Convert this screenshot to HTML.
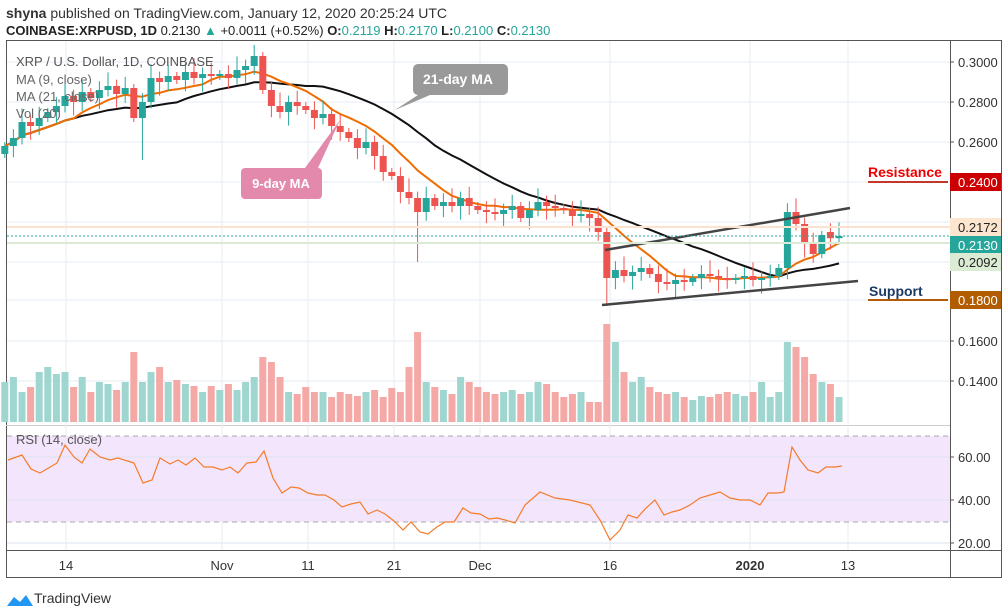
<!DOCTYPE html><html><head><meta charset="utf-8"><style>
body{margin:0;background:#fff;font-family:"Liberation Sans",sans-serif;}
svg{display:block}
</style></head><body>
<svg id="s" width="1008" height="615" xmlns="http://www.w3.org/2000/svg" font-family="Liberation Sans, sans-serif">
<text x="6" y="18" font-size="14" fill="#333"><tspan font-weight="bold">shyna</tspan> published on TradingView.com, January 12, 2020 20:25:24 UTC</text>
<text x="6" y="35" font-size="13" fill="#222"><tspan font-weight="bold">COINBASE:XRPUSD, 1D</tspan> 0.2130 <tspan fill="#26a69a">▲</tspan> +0.0011 (+0.52%) <tspan font-weight="bold">O:</tspan><tspan fill="#26a69a">0.2119</tspan> <tspan font-weight="bold">H:</tspan><tspan fill="#26a69a">0.2170</tspan> <tspan font-weight="bold">L:</tspan><tspan fill="#26a69a">0.2100</tspan> <tspan font-weight="bold">C:</tspan><tspan fill="#26a69a">0.2130</tspan></text>
<g id="g"></g>
</svg>
<script>
var S='';
var c=[.258,.262,.270,.268,.272,.275,.278,.283,.280,.285,.282,.286,.288,.284,.287,.272,.280,.292,.290,.293,.291,.295,.292,.294,.293,.294,.292,.296,.298,.303,.286,.278,.275,.280,.278,.276,.272,.274,.268,.265,.262,.257,.260,.253,.245,.243,.235,.232,.225,.232,.228,.230,.228,.232,.228,.226,.225,.224,.226,.228,.222,.226,.230,.228,.227,.226,.223,.224,.222,.215,.192,.196,.193,.195,.197,.194,.190,.189,.191,.190,.192,.194,.193,.192,.191,.192,.193,.191,.192,.193,.197,.225,.219,.209,.204,.2135,.2119,.2130];
function Y(p){return 62+(0.30-p)*2000}
function X(i){return 13.4+(i-1)*8.6}
S+='<rect x="6.5" y="40.5" width="995" height="537" fill="none" stroke="#555"/>';
S+='<line x1="950.5" y1="40" x2="950.5" y2="578" stroke="#555"/>';
S+='<line x1="6" y1="550.5" x2="1002" y2="550.5" stroke="#555"/>';
S+='<line x1="6" y1="425.5" x2="950" y2="425.5" stroke="#ccc"/>';
[62,102,142,182,222,262,300,341,381].forEach(function(y){S+='<line x1="7" y1="'+y+'" x2="950" y2="'+y+'" stroke="#e6edf5"/>';});
[66,222,308,394,480,610,750,848].forEach(function(x){S+='<line x1="'+x+'" y1="41" x2="'+x+'" y2="550" stroke="#e6edf5"/>';});
S+='<rect x="7" y="436" width="943" height="86" fill="#f3e5fc"/>';
S+='<line x1="7" y1="436" x2="950" y2="436" stroke="#aaa" stroke-dasharray="5,4"/><line x1="7" y1="522" x2="950" y2="522" stroke="#aaa" stroke-dasharray="5,4"/>';
[457,500,543].forEach(function(y){S+='<line x1="7" y1="'+y+'" x2="950" y2="'+y+'" stroke="#dde3f0"/>';});
var vol=[40,45,30,35,50,55,48,50,35,45,30,40,38,32,40,70,40,50,55,40,42,38,36,30,36,32,38,32,40,45,65,60,45,30,28,35,30,30,25,30,28,26,30,32,25,34,30,55,90,40,35,32,28,45,40,35,30,28,30,32,28,30,40,38,30,25,28,30,20,20,98,80,50,40,45,35,30,28,30,25,22,26,25,28,30,28,26,30,40,25,30,80,75,65,48,40,38,25];
for(var i=0;i<c.length;i++){var o=i?c[i-1]:c[0]-.004;if(i==96)o=.2150;if(i==97)o=.2119;var up=c[i]>=o;var h=vol[i];
S+='<rect x="'+(X(i)-3.5)+'" y="'+(422-h)+'" width="7" height="'+h+'" fill="'+(up?'#9fd6cf':'#f4a9a6')+'"/>';}
function ma(n){var p='';for(var i=0;i<c.length;i++){var a=Math.max(0,i-n+1),s=0;for(var j=a;j<=i;j++)s+=c[j];p+=(i?'L':'M')+X(i).toFixed(1)+','+Y(s/(i-a+1)).toFixed(1);}return p;}
S+='<path d="'+ma(21)+'" fill="none" stroke="#111" stroke-width="2"/>';
S+='<path d="'+ma(9)+'" fill="none" stroke="#ef6c00" stroke-width="2"/>';
for(var i=0;i<c.length;i++){var o=i?c[i-1]:c[0]-.004;if(i==96)o=.2150;if(i==97)o=.2119;var up=c[i]>=o;var col=up?'#26a69a':'#ef5350';
var hi=Math.max(o,c[i])+.002+((i*7)%5)*.0012,lo=Math.min(o,c[i])-.002-((i*3)%5)*.0012;
if(i==48)lo=.2;if(i==70)lo=.178;if(i==16)lo=.251;
var t=Y(Math.max(o,c[i])),b=Y(Math.min(o,c[i]));if(b-t<1.5)b=t+1.5;
S+='<line x1="'+X(i)+'" y1="'+Y(hi)+'" x2="'+X(i)+'" y2="'+Y(lo)+'" stroke="'+col+'"/>';
S+='<rect x="'+(X(i)-3.5)+'" y="'+t+'" width="7" height="'+(b-t)+'" fill="'+col+'"/>';}
var rp=[[8,460],[22,455],[31,469],[40,473],[57,463],[65,445],[74,457],[82,463],[90,449],[100,457],[110,460],[118,458],[134,463],[143,483],[152,480],[160,458],[170,464],[178,460],[186,465],[195,458],[204,467],[213,467],[222,470],[230,467],[238,473],[247,463],[256,462],[264,451],[273,478],[282,493],[291,487],[299,488],[308,493],[317,495],[325,495],[334,500],[342,507],[351,504],[360,502],[368,514],[377,510],[385,514],[394,521],[403,530],[411,522],[420,532],[428,534],[437,527],[445,522],[454,522],[463,508],[471,513],[480,514],[489,519],[497,518],[505,520],[515,523],[525,505],[540,492],[555,498],[570,500],[590,505],[600,520],[610,540],[620,530],[628,515],[637,518],[646,508],[655,500],[664,515],[672,512],[680,510],[690,505],[700,498],[710,495],[720,492],[730,498],[740,500],[750,500],[760,505],[768,493],[778,493],[784,492],[792,447],[800,460],[808,470],[818,473],[826,467],[835,467],[842,466]];
S+='<polyline points="'+rp.map(function(p){return p.join(',')}).join(' ')+'" fill="none" stroke="#f57c2a" stroke-width="1.2"/>';
S+='<line x1="605" y1="250" x2="850" y2="208" stroke="#444" stroke-width="2.5"/>';
S+='<line x1="602" y1="305" x2="858" y2="281" stroke="#444" stroke-width="2.5"/>';
S+='<line x1="868" y1="182" x2="948" y2="182" stroke="#c0392b" stroke-width="2"/><text x="868" y="177" font-size="14" font-weight="bold" fill="#e00">Resistance</text>';
S+='<line x1="868" y1="300" x2="948" y2="300" stroke="#b25c0a" stroke-width="2"/><text x="869" y="296" font-size="14" font-weight="bold" fill="#1a3a66">Support</text>';
S+='<line x1="7" y1="236" x2="950" y2="236" stroke="#26a69a" stroke-dasharray="2,2"/>';
S+='<line x1="7" y1="227" x2="950" y2="227" stroke="#fbe3cf" stroke-width="2"/><line x1="7" y1="243" x2="950" y2="243" stroke="#dbe9d5" stroke-width="2"/>';
S+='<path d="M418,64H503a5,5 0 0 1 5,5V90a5,5 0 0 1-5,5H430L395,110L418,95a5,5 0 0 1-5-5V69a5,5 0 0 1 5-5Z" fill="#999"/><text x="458" y="84" font-size="14" font-weight="bold" fill="#fff" text-anchor="middle">21-day MA</text>';
S+='<path d="M245,168H305L340,120L318,168a4,4 0 0 1 4,4V195a4,4 0 0 1-4,4H245a4,4 0 0 1-4-4V172a4,4 0 0 1 4-4Z" fill="#e389ab"/><text x="281" y="188" font-size="13" font-weight="bold" fill="#fff" text-anchor="middle">9-day MA</text>';
S+='<text x="16" y="66" font-size="13" fill="#555">XRP / U.S. Dollar, 1D, COINBASE</text><text x="16" y="84" font-size="13" fill="#666">MA (9, close)</text><text x="16" y="101" font-size="13" fill="#666">MA (21, close)</text><text x="16" y="118" font-size="13" fill="#666">Vol (20)</text>';
S+='<text x="16" y="444" font-size="13" fill="#555">RSI (14, close)</text>';
[[62,'0.3000'],[102,'0.2800'],[142,'0.2600'],[222,'0.2192'],[341,'0.1600'],[381,'0.1400'],[457,'60.00'],[500,'40.00'],[543,'20.00']].forEach(function(a){S+='<line x1="950" y1="'+a[0]+'" x2="954" y2="'+a[0]+'" stroke="#555"/><text x="958" y="'+(a[0]+5)+'" font-size="13" fill="#333">'+a[1]+'</text>';});
[[182,'0.2400','#cc0000','#fff'],[227,'0.2172','#fde6cf','#222'],[245,'0.2130','#26a69a','#fff'],[262,'0.2092','#dcecd4','#222'],[300,'0.1800','#b25c00','#fff']].forEach(function(a){S+='<rect x="950" y="'+(a[0]-9)+'" width="51" height="18" fill="'+a[2]+'"/><text x="958" y="'+(a[0]+5)+'" font-size="13" fill="'+a[3]+'">'+a[1]+'</text>';});
[[66,'14'],[222,'Nov'],[308,'11'],[394,'21'],[480,'Dec'],[610,'16'],[750,'2020'],[848,'13']].forEach(function(a){S+='<text x="'+a[0]+'" y="570" font-size="13" fill="#333" text-anchor="middle"'+(a[1]=='2020'?' font-weight="bold"':'')+'>'+a[1]+'</text>';});
S+='<path d="M7,606L14,597L20,602L26,595L33,606Z" fill="#2196f3"/><text x="34" y="603" font-size="14" fill="#333">TradingView</text>';
document.getElementById('g').innerHTML=S;
</script>
</body></html>
